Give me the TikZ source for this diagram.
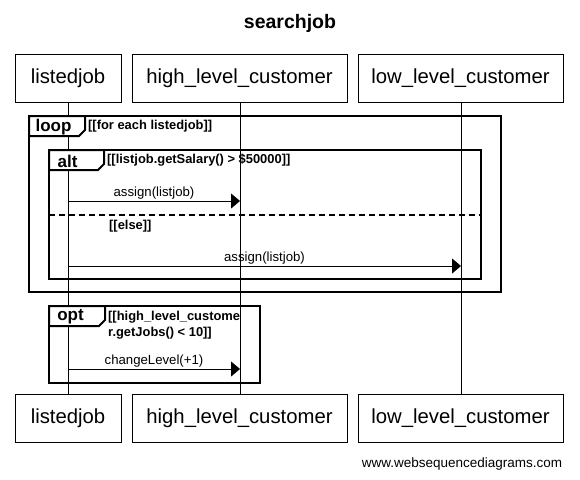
\documentclass[tikz,border=0pt]{standalone}
\usepackage{fontspec}
\setmainfont{Liberation Sans}
\usetikzlibrary{arrows.meta}
\tikzset{
  part/.style={draw, line width=1pt, inner sep=0pt, minimum height=48pt, font=\fontsize{20.3}{23}\selectfont},
  life/.style={line width=0.8pt},
  msg/.style={line width=0.8pt, -{Triangle[length=9pt,width=15pt]}},
  msglabel/.style={font=\fontsize{13.2}{15}\selectfont, inner sep=0pt},
  frame/.style={line width=2pt},
  tab/.style={line width=2pt, fill=white},
  tablabel/.style={font=\fontsize{17}{19}\selectfont\bfseries, inner sep=0pt},
  guard/.style={font=\fontsize{12.9}{15}\selectfont\bfseries, inner sep=0pt, anchor=west, align=left},
}
\begin{document}
\begin{tikzpicture}[x=1pt,y=-1pt]
\useasboundingbox (0,0) rectangle (580,479);
\fill[white] (0,0) rectangle (580,479);
\node[font=\fontsize{19.5}{22}\selectfont\bfseries] (title) at (290,23) {searchjob};
% participants
\node[part, minimum width=106pt] (ljT) at (68,78) {listedjob};
\node[part, minimum width=215pt] (hiT) at (239.5,78) {high\_level\_customer};
\node[part, minimum width=205pt] (loT) at (460.5,78) {low\_level\_customer};
\node[part, minimum width=106pt] (ljB) at (68,418) {listedjob};
\node[part, minimum width=215pt] (hiB) at (239.5,418) {high\_level\_customer};
\node[part, minimum width=205pt] (loB) at (460.5,418) {low\_level\_customer};
% lifelines
\draw[life] (ljT) -- (ljB);
\draw[life] (ljT.south -| 240,0) coordinate (hiTs) -- (hiB.north -| 240,0) coordinate (hiBn);
\draw[life] (loT.south -| 461,0) coordinate (loTs) -- (loB.north -| 461,0) coordinate (loBn);
% loop frame
\draw[frame] (29,116) rectangle (501,292);
\draw[tab] (29,116) -- (85,116) -- (85,130) -- (79,136) -- (29,136) -- cycle;
\node[tablabel] (loopT) at (53.5,127) {loop};
\node[guard] (loopG) at (88,126) {[[for each listedjob]]};
% alt frame
\draw[frame] (49,150) rectangle (481,279);
\draw[tab] (49,150) -- (104,150) -- (104,164) -- (98,170) -- (49,170) -- cycle;
\node[tablabel] (altT) at (67.5,161) {alt};
\node[guard] (altG) at (107,160) {[[listjob.getSalary() > \$50000]]};
\draw[line width=1.5pt, dash pattern=on 6pt off 4pt] (49,215) coordinate (dL) -- (481,215) coordinate (dR);
\node[guard] (elseG) at (109,226) {[[else]]};
% opt frame
\draw[frame] (49,306) rectangle (260,383);
\draw[tab] (49,306) -- (105,306) -- (105,320) -- (99,326) -- (49,326) -- cycle;
\node[tablabel] (optT) at (70.5,317) {opt};
\node[guard, anchor=north west] (optG) at (108,310.5) {[[high\_level\_custome\\[1.5pt]r.getJobs() < 10]]};
% messages
\coordinate (a1s) at (68,201); \coordinate (a1e) at (240,201);
\draw[msg] (a1s) -- (a1e);
\node[msglabel] (a1l) at (154,193) {assign(listjob)};
\coordinate (a2s) at (68,266); \coordinate (a2e) at (461,266);
\draw[msg] (a2s) -- (a2e);
\node[msglabel] (a2l) at (264.5,258) {assign(listjob)};
\coordinate (a3s) at (68,369); \coordinate (a3e) at (240,369);
\draw[msg] (a3s) -- (a3e);
\node[msglabel] (a3l) at (154,361) {changeLevel(+1)};
\node[font=\fontsize{13.5}{16}\selectfont, inner sep=0pt] (foot) at (462,464) {www.websequencediagrams.com};
\end{tikzpicture}
\end{document}
